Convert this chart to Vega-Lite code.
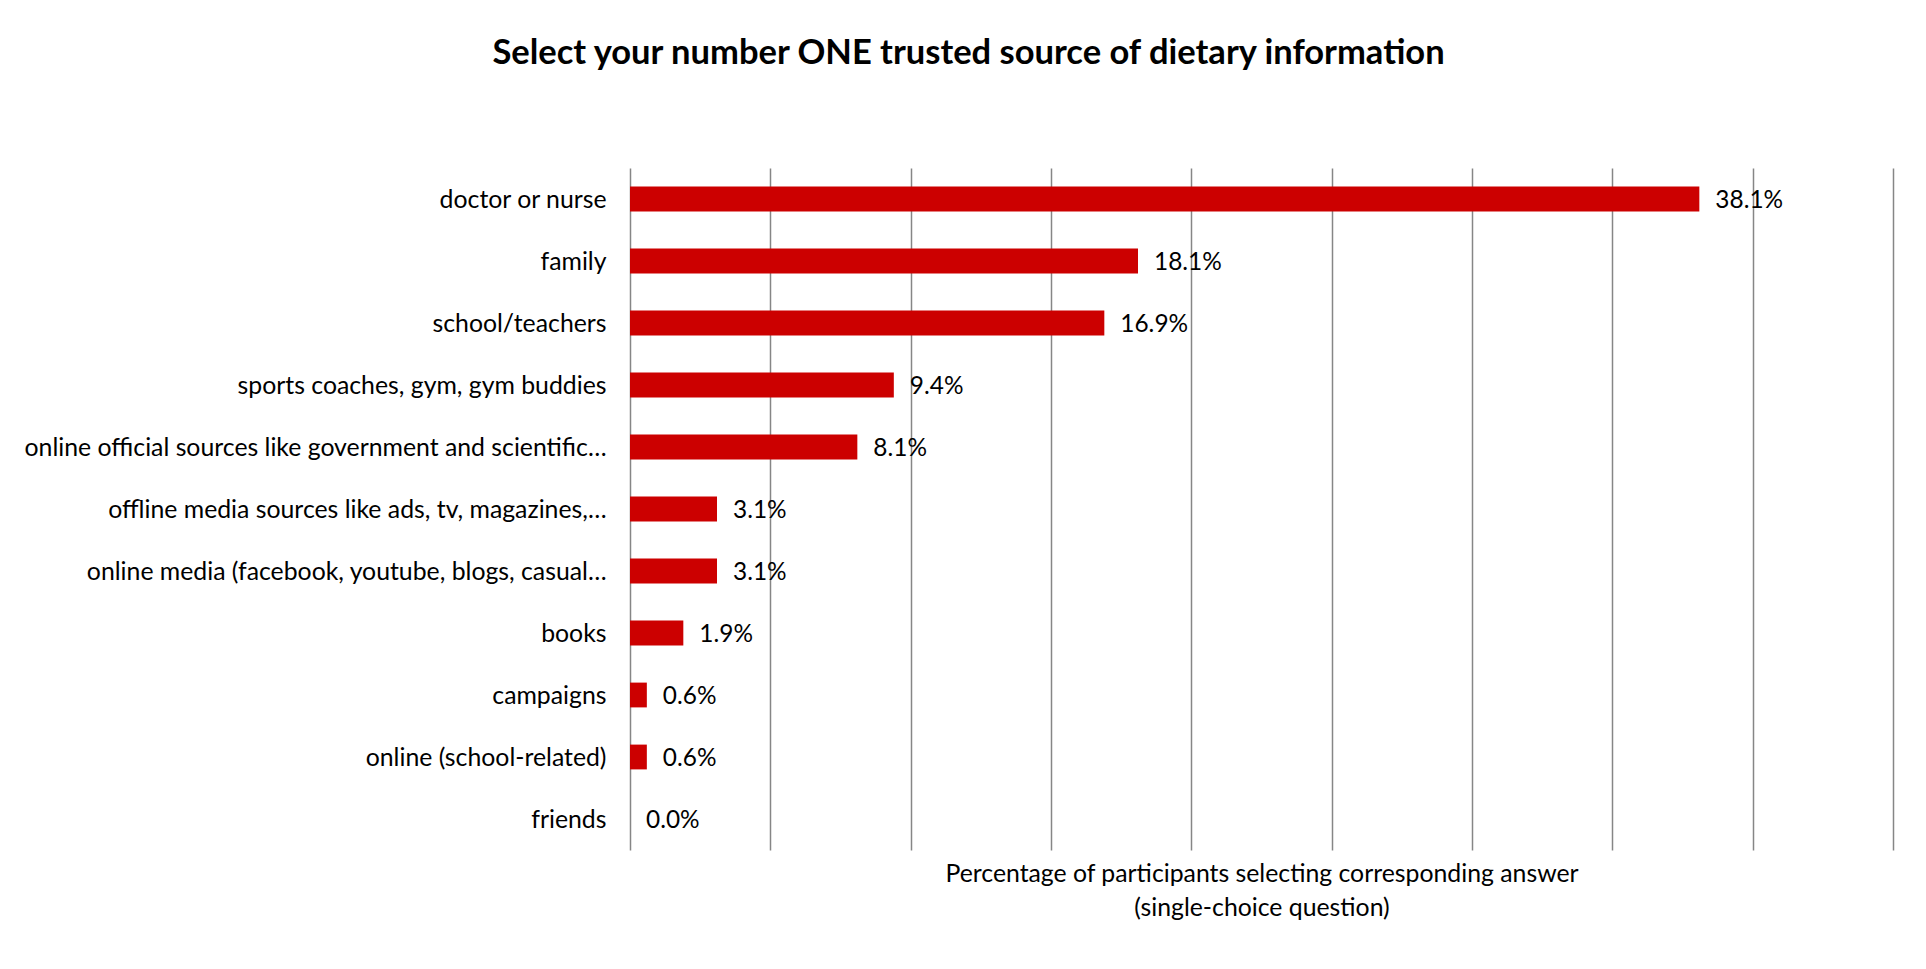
{
  "$schema": "https://vega.github.io/schema/vega-lite/v6.json",
  "width": 1263,
  "height": 682,
  "autosize": "none",
  "padding": {"left": 630, "top": 168, "right": 33, "bottom": 119},
  "background": "white",
  "title": {
    "text": "Select your number ONE trusted source of dietary information",
    "font": "Lato",
    "fontSize": 34.5,
    "fontWeight": "bold",
    "color": "#000000",
    "anchor": "middle",
    "dx": -293,
    "offset": 97
  },
  "data": {
    "values": [
      {"source": "doctor or nurse", "share": 0.381},
      {"source": "family", "share": 0.181},
      {"source": "school/teachers", "share": 0.169},
      {"source": "sports coaches, gym, gym buddies", "share": 0.094},
      {"source": "online official sources like government and scientific…", "share": 0.081},
      {"source": "offline media sources like ads, tv, magazines,…", "share": 0.031},
      {"source": "online media (facebook, youtube, blogs, casual…", "share": 0.031},
      {"source": "books", "share": 0.019},
      {"source": "campaigns", "share": 0.006},
      {"source": "online (school-related)", "share": 0.006},
      {"source": "friends", "share": 0.0}
    ]
  },
  "encoding": {
    "y": {
      "field": "source",
      "type": "nominal",
      "sort": null,
      "scale": {"paddingInner": 0.6, "paddingOuter": 0.3},
      "axis": {
        "title": null,
        "domain": false,
        "ticks": false,
        "labelFont": "Lato",
        "labelFontSize": 24.8,
        "labelColor": "#000000",
        "labelPadding": 24,
        "labelLimit": 700,
        "labelOffset": 2
      }
    },
    "x": {
      "field": "share",
      "type": "quantitative",
      "scale": {"domain": [0, 0.45], "nice": false},
      "axis": {
        "values": [0, 0.05, 0.1, 0.15, 0.2, 0.25, 0.3, 0.35, 0.4, 0.45],
        "grid": true,
        "gridColor": "#868686",
        "gridWidth": 1.5,
        "gridOpacity": 1,
        "labels": false,
        "ticks": false,
        "domain": false,
        "title": ["Percentage of participants selecting corresponding answer", "(single-choice question)"],
        "titleFont": "Lato",
        "titleFontSize": 24.8,
        "titleFontWeight": "normal",
        "titleColor": "#000000",
        "titleLineHeight": 34,
        "titlePadding": 11
      }
    }
  },
  "layer": [
    {"mark": {"type": "bar", "color": "#CC0000"}},
    {
      "mark": {"type": "text", "align": "left", "baseline": "middle", "dx": 16, "dy": 2, "font": "Lato", "fontSize": 24.4, "color": "#000000"},
      "encoding": {"text": {"field": "share", "type": "quantitative", "format": ".1%"}}
    }
  ],
  "config": {"view": {"stroke": null}}
}
